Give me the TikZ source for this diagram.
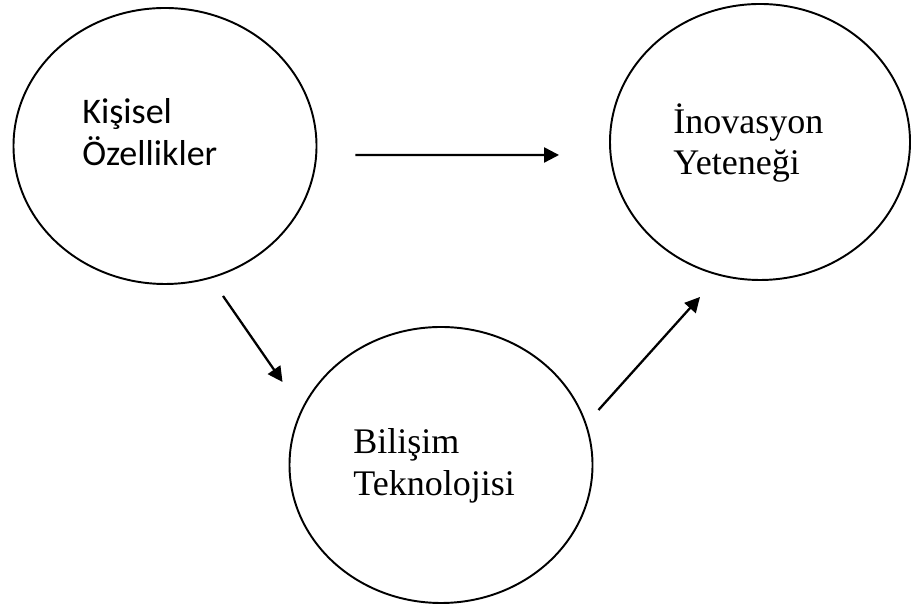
\documentclass[tikz,border=0pt]{standalone}
\usepackage{fontspec}
\newfontfamily\calibrifont{Carlito}
\newfontfamily\timesfont{Liberation Serif}
\usetikzlibrary{%
    shapes.geometric,%
    arrows.meta
}

\begin{document}
\begin{tikzpicture}[ blob/.style={draw,ellipse,line width=1.1pt,inner sep=0pt,
        minimum width=6.06cm,minimum height=5.52cm},
    sanstxt/.style={anchor=west,align=left,inner sep=0pt,
        font={\calibrifont\fontsize{20.5}{23.9}\selectfont}},
    seriftxt/.style={anchor=west,align=left,inner sep=0pt,
        font={\timesfont\fontsize{20.5}{23.6}\selectfont}},
    arr/.style={line width=1.3pt,-{Triangle[length=0.3cm,width=0.3cm]}}]
\useasboundingbox(0,0) rectangle (18.22,12.16);
%\draw(0,0) rectangle (18.22,12.16);

\node[blob] (kisisel) at (3.30,9.24) {};
\node[blob,minimum width=6cm] (inovasyon) at (15.20,9.32) {};
\node[blob] (bilisim) at (8.82,2.86) {};

\node[sanstxt] (kisiseltxt) at (1.64,9.52) {Kişisel\\Özellikler};
\node[seriftxt] (inovasyontxt) at (13.46,9.30) {İnovasyon\\Yeteneği};
\node[seriftxt] (bilisimtxt) at (7.06,2.84) {Bilişim\\Teknolojisi};

\draw[arr]([xshift=0.76cm,yshift=-0.18cm]kisisel.east)
    --([xshift=-1cm,yshift=-0.26cm]inovasyon.west);
\draw[arr]([xshift=1.16cm,yshift=-0.22cm]kisisel.south)
    --([xshift=-0.12cm,yshift=1.66cm]bilisim.west);
\draw[arr]([xshift=0.1cm,yshift=1.1cm]bilisim.east)
    --([xshift=-1.2cm,yshift=-0.32cm]inovasyon.south);
\end{tikzpicture}
\end{document}
